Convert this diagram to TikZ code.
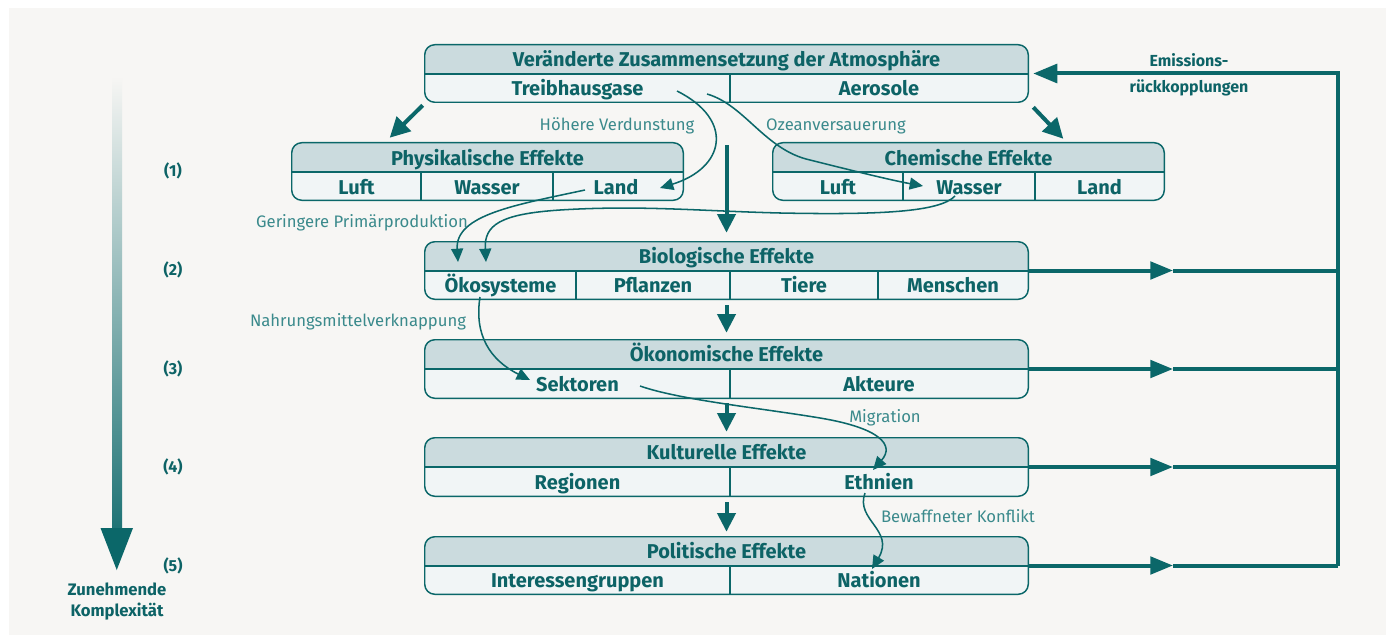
\documentclass[tikz,border=0pt]{standalone}
\usepackage{fontspec}
\setmainfont{Fira Sans}
\usetikzlibrary{arrows.meta,fit}
\definecolor{dteal}{HTML}{0B6769}
\definecolor{txt}{HTML}{0D6366}
\definecolor{lbl}{HTML}{3B8A8C}
\definecolor{chead}{HTML}{CBDBDE}
\definecolor{cbody}{HTML}{F1F5F6}
\definecolor{cbg}{HTML}{F7F6F4}
\tikzset{
  boxline/.style={draw=dteal, line width=1.1pt},
  htext/.style={text=txt, font=\fontsize{15}{17}\selectfont\bfseries, inner sep=0pt, text height=10.3pt, text depth=0pt},
  btext/.style={htext},
  lbltext/.style={text=lbl, font=\fontsize{12.5}{15}\selectfont, inner sep=0pt, text height=8.6pt, text depth=0pt},
  numtext/.style={text=txt, font=\fontsize{12}{14}\selectfont\bfseries, inner sep=0pt, text height=8.3pt, text depth=0pt},
  thickarrow/.style={draw=dteal, line width=3pt, -{Triangle[length=15pt,width=15pt]}},
  vertarrow/.style={draw=dteal, line width=3pt, -{Triangle[length=14pt,width=13.5pt]}},
  fbline/.style={draw=dteal, line width=3pt},
  fbarrow/.style={draw=dteal, line width=3pt, -{Triangle[length=17pt,width=13pt]}},
  curve/.style={draw=dteal, line width=1.15pt, -{Triangle[length=10pt,width=9pt]}},
}
\newcommand\effbox[6]{%
  \coordinate (#1-nw) at (#2,#3);
  \coordinate (#1-se) at (#4,#5);
  \node[fit=(#1-nw)(#1-se), inner sep=0pt, fill=cbody, rounded corners=7.5pt] (#1) {};
  \begin{scope}
    \clip[rounded corners=7.5pt] (#1.north west) rectangle (#1.south east);
    \fill[chead] (#2,#3) rectangle (#4,#6);
  \end{scope}
  \draw[boxline] (#2,#6) -- (#4,#6);
  \draw[boxline, rounded corners=7.5pt] (#1.north west) rectangle (#1.south east);
}
\begin{document}
\begin{tikzpicture}[x=0.75pt, y=-0.75pt]
\useasboundingbox (0,0) rectangle (1386,635);
\fill[white] (0,0) rectangle (1386,635);
\fill[cbg] (9,8) rectangle (1386,635);

% ---- boxes ----
\effbox{atmo}{425}{45}{1028}{102}{74}
\draw[boxline] (730,74) -- (730,102);
\node[htext] (atmo-h) at (726.5,60) {Veränderte Zusammensetzung der Atmosphäre};
\node[btext] (atmo-c1) at (577.5,89) {Treibhausgase};
\node[btext] (atmo-c2) at (879,89) {Aerosole};

\effbox{phys}{292}{143}{683}{200}{172}
\draw[boxline] (421,172) -- (421,200);
\draw[boxline] (553,172) -- (553,200);
\node[htext] (phys-h) at (487.5,158.5) {Physikalische Effekte};
\node[btext] (phys-c1) at (356.5,187.5) {Luft};
\node[btext] (phys-c2) at (487,187.5) {Wasser};
\node[btext] (phys-c3) at (616,187.5) {Land};

\effbox{chem}{773}{143}{1164}{200}{172}
\draw[boxline] (903,172) -- (903,200);
\draw[boxline] (1035,172) -- (1035,200);
\node[htext] (chem-h) at (968.5,158.5) {Chemische Effekte};
\node[btext] (chem-c1) at (838,187.5) {Luft};
\node[btext] (chem-c2) at (969,187.5) {Wasser};
\node[btext] (chem-c3) at (1099.5,187.5) {Land};

\effbox{bio}{425}{242}{1028}{299}{271}
\draw[boxline] (576,271) -- (576,299);
\draw[boxline] (730,271) -- (730,299);
\draw[boxline] (878,271) -- (878,299);
\node[htext] (bio-h) at (726.5,257) {Biologische Effekte};
\node[btext] (bio-c1) at (500.5,286) {Ökosysteme};
\node[btext] (bio-c2) at (653,286) {Pflanzen};
\node[btext] (bio-c3) at (804,286) {Tiere};
\node[btext] (bio-c4) at (953,286) {Menschen};

\effbox{oko}{425}{340}{1028}{398}{369}
\draw[boxline] (730,369) -- (730,398);
\node[htext] (oko-h) at (726.5,355) {Ökonomische Effekte};
\node[btext] (oko-c1) at (577.5,384.5) {Sektoren};
\node[btext] (oko-c2) at (879,384.5) {Akteure};

\effbox{kult}{425}{438}{1028}{496}{467}
\draw[boxline] (730,467) -- (730,496);
\node[htext] (kult-h) at (726.5,453) {Kulturelle Effekte};
\node[btext] (kult-c1) at (577.5,482.5) {Regionen};
\node[btext] (kult-c2) at (879,482.5) {Ethnien};

\effbox{pol}{425}{537}{1028}{594}{566}
\draw[boxline] (730,566) -- (730,594);
\node[htext] (pol-h) at (726.5,552) {Politische Effekte};
\node[btext] (pol-c1) at (577.5,580.5) {Interessengruppen};
\node[btext] (pol-c2) at (879,580.5) {Nationen};

% ---- thick arrows ----
\draw[thickarrow] ([shift={(-1.5pt,-2.25pt)}]atmo.south west) -- ([shift={(73.5pt,3.75pt)}]phys.north west);
\draw[thickarrow] ([shift={(3.75pt,-3.75pt)}]atmo.south east) -- ([shift={(-75.75pt,3pt)}]chem.north east);
\draw[vertarrow] ([yshift=-32.25pt]atmo.south) -- ([yshift=6.75pt]bio.north);
\draw[vertarrow] ([yshift=-4.5pt]bio.south) -- ([yshift=5.25pt]oko.north);
\draw[vertarrow] ([yshift=-3.75pt]oko.south) -- ([yshift=4.5pt]kult.north);
\draw[vertarrow] ([yshift=-4.5pt]kult.south) -- ([yshift=3.75pt]pol.north);

% ---- feedback ----
\coordinate (tipx) at (1173,0);
\coordinate (busx) at (1338,0);
\foreach \b in {bio,oko,kult,pol}{
  \draw[fbarrow] (\b.east) -- (\b.east -| tipx);
  \draw[fbline] (\b.east -| tipx) -- (\b.east -| busx);
}
\draw[fbline, line join=miter, -{Triangle[length=18pt,width=14pt]}] (pol.east -| busx) -- (busx |- atmo.east) -- ([xshift=3.75pt]atmo.east);
\node[numtext] (emis1) at (1189,61) {Emissions-};
\node[numtext] (emis2) at (1189,87) {rückkopplungen};

% ---- complexity arrow ----
\shade[top color=cbg, bottom color=dteal!92] (112,76) rectangle (122,529);
\fill[dteal] (100.5,528) -- (133,528) -- (116.75,570) -- cycle;
\node[numtext] (n1) at (173,171) {(1)};
\node[numtext] (n2) at (173,270) {(2)};
\node[numtext] (n3) at (173,369) {(3)};
\node[numtext] (n4) at (173,467) {(4)};
\node[numtext] (n5) at (173,566) {(5)};
\node[numtext, font=\fontsize{12.5}{14}\selectfont\bfseries] (kz1) at (117,590) {Zunehmende};
\node[numtext, font=\fontsize{12.5}{14}\selectfont\bfseries] (kz2) at (117,611) {Komplexität};

% ---- curved connectors ----
\coordinate (c1s) at (677,91);
\coordinate (c1e) at (660,188);
\draw[curve] (c1s) .. controls (735,120) and (725,168) .. (c1e);
\node[lbltext] (l1) at (617,125) {Höhere Verdunstung};

\coordinate (c2s) at (707,94);
\coordinate (c2e) at (923,186);
\draw[curve] (c2s) .. controls (745,105) and (765,150) .. (810,160) .. controls (850,170) and (890,180) .. (c2e);
\node[lbltext] (l2) at (836,125) {Ozeanversauerung};

\coordinate (c3s) at (585,190);
\coordinate (c3e) at (458,262);
\draw[curve] (c3s) .. controls (515,205) and (455,215) .. (c3e);

\coordinate (c4s) at (955,196);
\coordinate (c4e) at (486,262);
\draw[curve] (c4s) .. controls (940,212) and (880,215) .. (780,213) .. controls (700,211) and (640,205) .. (560,210) .. controls (500,214) and (484,225) .. (c4e);
\node[lbltext] (l3) at (362,222) {Geringere Primärproduktion};

\coordinate (c5s) at (480,297);
\coordinate (c5e) at (530,380);
\draw[curve] (c5s) .. controls (474,335) and (490,360) .. (c5e);
\node[lbltext] (l4) at (358,321) {Nahrungsmittelverknappung};

\coordinate (c6s) at (640,386);
\coordinate (c6e) at (873,470);
\draw[curve] (c6s) .. controls (680,400) and (760,408) .. (820,418) .. controls (880,428) and (895,445) .. (c6e);
\node[lbltext] (l5) at (885,417) {Migration};

\coordinate (c7s) at (865,493);
\coordinate (c7e) at (872,569);
\draw[curve] (c7s) .. controls (855,520) and (895,530) .. (c7e);
\node[lbltext] (l6) at (958,517) {Bewaffneter Konflikt};
\end{tikzpicture}
\end{document}
